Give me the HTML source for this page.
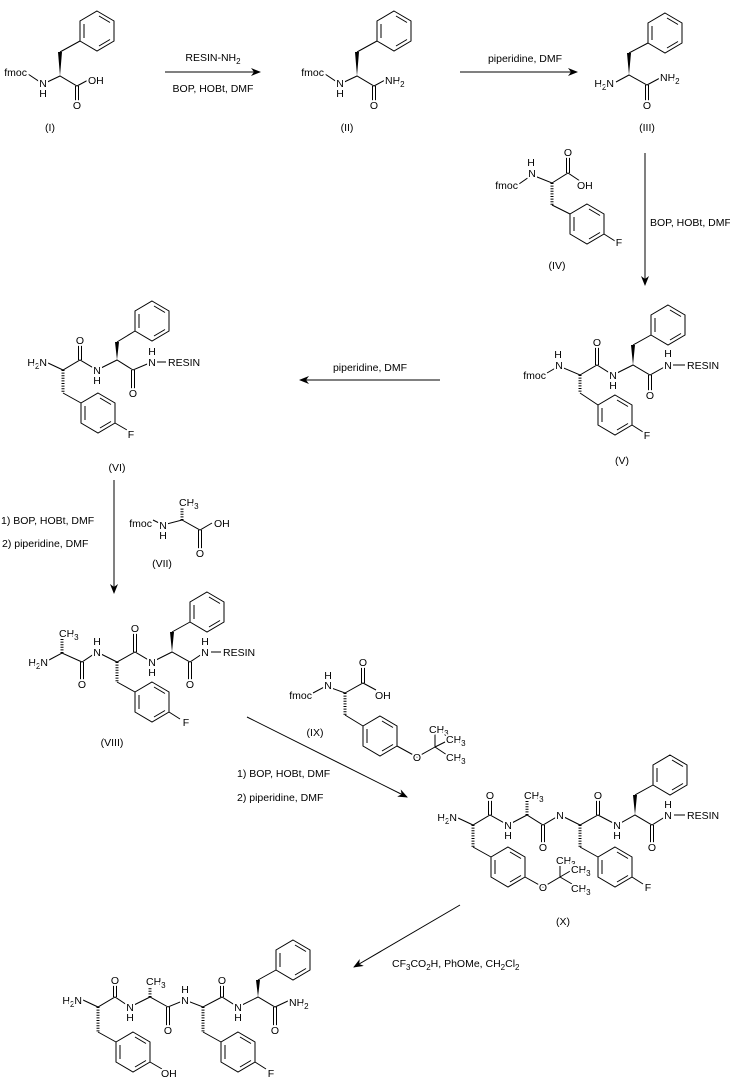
<!DOCTYPE html>
<html><head><meta charset="utf-8"><style>
html,body{margin:0;padding:0;background:#fff;}
svg{display:block;}
text{font-family:"Liberation Sans",sans-serif;font-size:10.5px;fill:#000;}
.a{paint-order:stroke;stroke:#fff;stroke-width:4px;stroke-linejoin:round;}
.m{text-anchor:middle;}
.e{text-anchor:end;}
.b{fill:none;stroke:#000;stroke-width:1;}
.h{stroke:#000;stroke-width:3;stroke-dasharray:1 1.6;fill:none;}
</style></head><body>
<svg width="730" height="1085" viewBox="0 0 730 1085" xmlns="http://www.w3.org/2000/svg">
<defs>
<symbol id="r" overflow="visible">
<path d="M0,-20 L17,-10 L17,10 L0,20 L-17,10 L-17,-10 Z M2,-15 L13,-8.5 M13,8.5 L2,15 M-13,7 L-13,-7" fill="none" stroke="#000" stroke-width="1"/>
</symbol>
<marker id="ah" markerWidth="10" markerHeight="8" refX="9" refY="4" orient="auto" markerUnits="userSpaceOnUse">
<path d="M0,0 L10,4 L0,8 L3,4 Z" fill="#000"/>
</marker>
</defs>

<!-- (I) -->
<g id="c1">
<path class="b" d="M28,74 L43,84 L60,76 L77,86 L90,79 M60,52 L80,41 M75.5,86 V103 M78.5,86 V103"/>
<polygon points="60,76 58,52 62,52"/>
<use href="#r" x="97" y="31"/>
<text class="a e" x="27" y="76">fmoc</text>
<text class="a m" x="43" y="87">N</text>
<text class="a m" x="43" y="97">H</text>
<text class="a m" x="77" y="109">O</text>
</g>
<text class="a" x="88" y="84">OH</text>
<text class="m" x="50" y="131">(I)</text>

<!-- (II) -->
<g transform="translate(297,0)">
<path class="b" d="M28,74 L43,84 L60,76 L77,86 L90,79 M60,52 L80,41 M75.5,86 V103 M78.5,86 V103"/>
<polygon points="60,76 58,52 62,52"/>
<use href="#r" x="97" y="31"/>
<text class="a e" x="27" y="76">fmoc</text>
<text class="a m" x="43" y="87">N</text>
<text class="a m" x="43" y="97">H</text>
<text class="a m" x="77" y="109">O</text>
<text class="a" x="88" y="84">NH<tspan font-size="8" dy="3">2</tspan></text>
</g>
<text class="m" x="347" y="131">(II)</text>

<!-- arrows top -->
<line x1="165" y1="72" x2="260" y2="72" stroke="#000" marker-end="url(#ah)"/>
<text class="m" x="213" y="61">RESIN-NH<tspan font-size="8" dy="3">2</tspan></text>
<text class="m" x="213" y="92">BOP, HOBt, DMF</text>
<line x1="460" y1="72" x2="577" y2="72" stroke="#000" marker-end="url(#ah)"/>
<text class="m" x="525" y="62">piperidine, DMF</text>

<!-- (III) -->
<path class="b" d="M616,82 L629,75 L647,85 L660,78 M629,53 L648,43 M645.5,85 V102 M648.5,85 V102"/>
<polygon points="629,75 627,53 631,53"/>
<use href="#r" x="665" y="33"/>
<text class="a e" x="614" y="87">H<tspan font-size="8" dy="3">2</tspan><tspan dy="-3">N</tspan></text>
<text class="a" x="660" y="81">NH<tspan font-size="8" dy="3">2</tspan></text>
<text class="a m" x="647" y="109">O</text>
<text class="m" x="647" y="131">(III)</text>

<line x1="645" y1="153" x2="645" y2="285" stroke="#000" marker-end="url(#ah)"/>
<text x="650" y="226">BOP, HOBt, DMF</text>

<!-- (IV) -->
<path class="b" d="M519,184 L532,175 L552,183 L568,173 L580,181 M566.5,173 V155 M569.5,173 V155 M552,205 L570,214 M604,234 L615,241"/>
<line class="h" x1="552" y1="183" x2="552" y2="205"/>
<use href="#r" x="587" y="224"/>
<text class="a e" x="518" y="189">fmoc</text>
<text class="a m" x="532" y="177">N</text>
<text class="a m" x="531" y="166">H</text>
<text class="a m" x="568" y="156">O</text>
<text class="a" x="577" y="189">OH</text>
<text class="a m" x="619" y="246">F</text>
<text class="m" x="557" y="269">(IV)</text>

<!-- (V) -->
<path class="b" d="M547,373 L559,366 L580,375 L597,365 L613,375 L633,365 L650,375 L668,365 M595.5,365 V346 M598.5,365 V346 M648.5,375 V393 M651.5,375 V393 M580,393 L598,405 M632,425 L643,432 M633,345 L651,335 M673,365 L685,365"/>
<line class="h" x1="580" y1="375" x2="580" y2="393"/>
<polygon points="633,365 631,345 635,345"/>
<use href="#r" x="615" y="415"/>
<use href="#r" x="668" y="325"/>
<text class="a e" x="546" y="379">fmoc</text>
<text class="a m" x="559" y="369">N</text>
<text class="a m" x="558" y="358">H</text>
<text class="a m" x="597" y="346">O</text>
<text class="a m" x="613" y="379">N</text>
<text class="a m" x="613" y="389">H</text>
<text class="a m" x="650" y="399">O</text>
<text class="a m" x="668" y="369">N</text>
<text class="a m" x="668" y="357">H</text>
<text x="687" y="369">RESIN</text>
<text class="a m" x="647" y="439">F</text>
<text class="m" x="622" y="464">(V)</text>

<line x1="440" y1="380" x2="300" y2="380" stroke="#000" marker-end="url(#ah)"/>
<text class="m" x="370" y="371">piperidine, DMF</text>

<!-- (VI) -->
<path class="b" d="M48,363 L63,370 L80,360 L97,370 L117,360 L133,370 L152,362 M78.5,360 V342 M81.5,360 V342 M131.5,370 V390 M134.5,370 V390 M63,393 L81,403 M115,423 L127,430 M117,342 L135,331 M157,362 L166,362"/>
<line class="h" x1="63" y1="370" x2="63" y2="393"/>
<polygon points="117,360 115,342 119,342"/>
<use href="#r" x="98" y="413"/>
<use href="#r" x="152" y="321"/>
<text class="a e" x="47" y="366">H<tspan font-size="8" dy="3">2</tspan><tspan dy="-3">N</tspan></text>
<text class="a m" x="80" y="344">O</text>
<text class="a m" x="97" y="374">N</text>
<text class="a m" x="97" y="384">H</text>
<text class="a m" x="133" y="397">O</text>
<text class="a m" x="152" y="366">N</text>
<text class="a m" x="152" y="355">H</text>
<text x="168" y="366">RESIN</text>
<text class="a m" x="131" y="438">F</text>
<text class="m" x="117" y="471">(VI)</text>

<line x1="114" y1="480" x2="114" y2="593" stroke="#000" marker-end="url(#ah)"/>
<text x="1" y="524">1) BOP, HOBt, DMF</text>
<text x="2" y="547">2) piperidine, DMF</text>

<!-- (VII) -->
<path class="b" d="M153,520 L163,525 L182,520 L200,530 L212,523 M198.5,530 V550 M201.5,530 V550"/>
<line class="h" x1="182" y1="520" x2="182" y2="507"/>
<text class="a e" x="152" y="527">fmoc</text>
<text class="a m" x="163" y="529">N</text>
<text class="a m" x="163" y="539">H</text>
<text class="a" x="179" y="506">CH<tspan font-size="8" dy="3">3</tspan></text>
<text class="a" x="214" y="527">OH</text>
<text class="a m" x="200" y="557">O</text>
<text class="m" x="162" y="567">(VII)</text>

<!-- (VIII) -->
<path class="b" d="M49,660 L62,653 L82,662 L97,652 L117,662 L135,652 L152,662 L172,652 L190,662 L205,652 M80.5,662 V682 M83.5,662 V682 M133.5,652 V632 M136.5,652 V632 M188.5,662 V682 M191.5,662 V682 M117,682 L135,692 M169,712 L180,719 M172,632 L190,622 M211,652 L221,652"/>
<line class="h" x1="62" y1="653" x2="62" y2="639"/>
<line class="h" x1="117" y1="662" x2="117" y2="682"/>
<polygon points="172,652 170,632 174,632"/>
<use href="#r" x="152" y="702"/>
<use href="#r" x="207" y="612"/>
<text class="a e" x="48" y="666">H<tspan font-size="8" dy="3">2</tspan><tspan dy="-3">N</tspan></text>
<text class="a" x="59" y="637">CH<tspan font-size="8" dy="3">3</tspan></text>
<text class="a m" x="82" y="688">O</text>
<text class="a m" x="97" y="656">N</text>
<text class="a m" x="97" y="645">H</text>
<text class="a m" x="135" y="632">O</text>
<text class="a m" x="152" y="666">N</text>
<text class="a m" x="152" y="676">H</text>
<text class="a m" x="190" y="688">O</text>
<text class="a m" x="205" y="656">N</text>
<text class="a m" x="205" y="645">H</text>
<text x="223" y="656">RESIN</text>
<text class="a m" x="186" y="726">F</text>
<text class="m" x="112" y="746">(VIII)</text>

<!-- (IX) -->
<path class="b" d="M313,693 L326,686 L345,693 L363,683 L376,690 M361.5,683 V665 M364.5,683 V665 M345,715 L363,726 M397,746 L417,757 L435,747 L435,733 M435,747 L447,741 M435,747 L447,755"/>
<line class="h" x1="345" y1="693" x2="345" y2="715"/>
<use href="#r" x="380" y="736"/>
<text class="a e" x="312" y="699">fmoc</text>
<text class="a m" x="328" y="689">N</text>
<text class="a m" x="328" y="679">H</text>
<text class="a m" x="363" y="666">O</text>
<text class="a" x="375" y="699">OH</text>
<text class="a m" x="417" y="761">O</text>
<text class="a" x="429" y="733">CH<tspan font-size="8" dy="3">3</tspan></text>
<text class="a" x="446" y="743">CH<tspan font-size="8" dy="3">3</tspan></text>
<text class="a" x="446" y="761">CH<tspan font-size="8" dy="3">3</tspan></text>
<text class="m" x="315" y="736">(IX)</text>

<line x1="247" y1="717" x2="407" y2="797" stroke="#000" marker-end="url(#ah)"/>
<text x="237" y="777">1) BOP, HOBt, DMF</text>
<text x="237" y="801">2) piperidine, DMF</text>

<!-- (X) -->
<path class="b" d="M458,818 L473,825 L490,815 L508,825 L527,815 L543,825 L560,815 L580,825 L598,815 L617,825 L635,815 L652,825 L668,815 M488.5,815 V797 M491.5,815 V797 M541.5,825 V845 M544.5,825 V845 M596.5,815 V797 M599.5,815 V797 M650.5,825 V845 M653.5,825 V845 M473,847 L491,857 M525,877 L543,887 L560,877 L560,862 M560,877 L572,870 M560,877 L572,884 M580,847 L598,857 M632,877 L643,884 M635,795 L653,785 M674,815 L685,815"/>
<line class="h" x1="473" y1="825" x2="473" y2="847"/>
<line class="h" x1="527" y1="815" x2="527" y2="801"/>
<line class="h" x1="580" y1="825" x2="580" y2="847"/>
<polygon points="635,815 633,795 637,795"/>
<use href="#r" x="508" y="867"/>
<use href="#r" x="615" y="867"/>
<use href="#r" x="670" y="775"/>
<text class="a e" x="457" y="821">H<tspan font-size="8" dy="3">2</tspan><tspan dy="-3">N</tspan></text>
<text class="a m" x="490" y="799">O</text>
<text class="a m" x="508" y="829">N</text>
<text class="a m" x="508" y="839">H</text>
<text class="a" x="524" y="799">CH<tspan font-size="8" dy="3">3</tspan></text>
<text class="a m" x="543" y="851">O</text>
<text class="a m" x="560" y="819">N</text>
<text class="a m" x="598" y="799">O</text>
<text class="a m" x="617" y="829">N</text>
<text class="a m" x="617" y="839">H</text>
<text class="a m" x="652" y="851">O</text>
<text class="a m" x="668" y="819">N</text>
<text class="a m" x="668" y="808">H</text>
<text x="687" y="819">RESIN</text>
<text class="a m" x="543" y="891">O</text>
<text class="a" x="556" y="864">CH<tspan font-size="8" dy="3">3</tspan></text>
<text class="a" x="571" y="873">CH<tspan font-size="8" dy="3">3</tspan></text>
<text class="a" x="571" y="892">CH<tspan font-size="8" dy="3">3</tspan></text>
<text class="a m" x="648" y="891">F</text>
<text class="m" x="563" y="925">(X)</text>

<line x1="460" y1="905" x2="354" y2="967" stroke="#000" marker-end="url(#ah)"/>
<text x="392" y="967">CF<tspan font-size="8" dy="3">3</tspan><tspan dy="-3">CO</tspan><tspan font-size="8" dy="3">2</tspan><tspan dy="-3">H, PhOMe, CH</tspan><tspan font-size="8" dy="3">2</tspan><tspan dy="-3">Cl</tspan><tspan font-size="8" dy="3">2</tspan></text>

<!-- final -->
<path class="b" d="M83,1000 L98,1007 L115,997 L130,1007 L150,997 L168,1007 L185,1000 L203,1007 L222,997 L238,1007 L258,997 L275,1007 L290,1000 M113.5,997 V980 M116.5,997 V980 M166.5,1007 V1027 M169.5,1007 V1027 M220.5,997 V980 M223.5,997 V980 M273.5,1007 V1027 M276.5,1007 V1027 M98,1032 L116,1042 M150,1062 L162,1069 M203,1032 L221,1042 M255,1062 L266,1069 M258,980 L276,970"/>
<line class="h" x1="98" y1="1007" x2="98" y2="1032"/>
<line class="h" x1="150" y1="997" x2="150" y2="986"/>
<line class="h" x1="203" y1="1007" x2="203" y2="1032"/>
<polygon points="258,997 256,980 260,980"/>
<use href="#r" x="133" y="1052"/>
<use href="#r" x="238" y="1052"/>
<use href="#r" x="293" y="960"/>
<text class="a e" x="82" y="1004">H<tspan font-size="8" dy="3">2</tspan><tspan dy="-3">N</tspan></text>
<text class="a m" x="115" y="984">O</text>
<text class="a m" x="130" y="1011">N</text>
<text class="a m" x="130" y="1021">H</text>
<text class="a" x="146" y="985">CH<tspan font-size="8" dy="3">3</tspan></text>
<text class="a m" x="168" y="1034">O</text>
<text class="a m" x="185" y="1004">N</text>
<text class="a m" x="185" y="993">H</text>
<text class="a m" x="222" y="984">O</text>
<text class="a m" x="238" y="1011">N</text>
<text class="a m" x="238" y="1021">H</text>
<text class="a m" x="275" y="1034">O</text>
<text class="a" x="289" y="1006">NH<tspan font-size="8" dy="3">2</tspan></text>
<text class="a" x="161" y="1077">OH</text>
<text class="a m" x="271" y="1077">F</text>
</svg>
</body></html>
